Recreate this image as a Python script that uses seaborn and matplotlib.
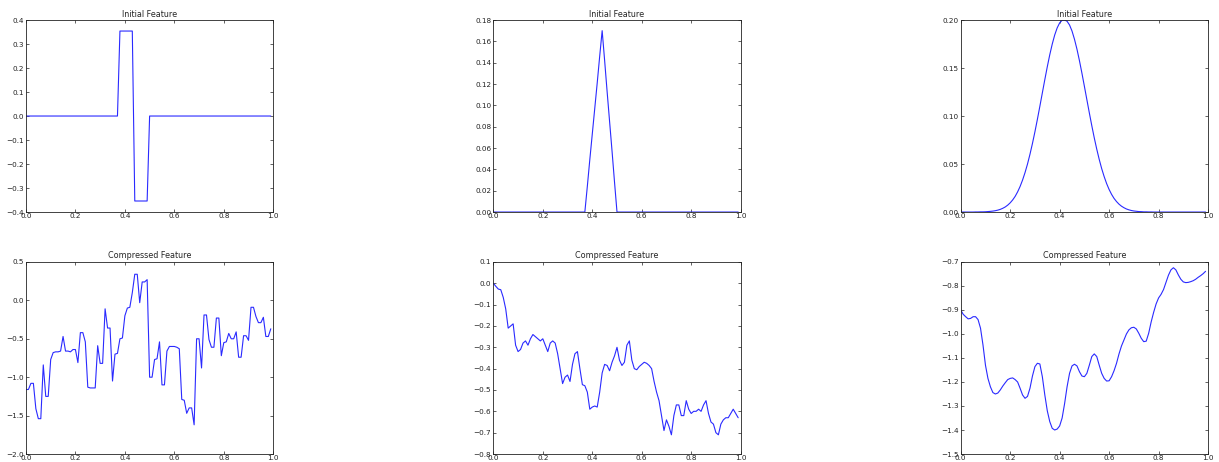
import numpy as np
import pandas as pd
import matplotlib
matplotlib.use("Agg")
import matplotlib.pyplot as plt
import seaborn as sns

# ---------------- data ----------------
x_grid = np.round(np.arange(0, 1.0, 0.01), 2)

titles_top = "Initial Feature"
titles_bottom = "Compressed Feature"

haar_initial = ([0.0] * 38 + [0.354] * 6 + [-0.354] * 6 + [0.0] * 50)

tri_initial = ([0.0] * 38 +
               [0.024, 0.049, 0.073, 0.097, 0.121, 0.146, 0.170,
                0.142, 0.113, 0.085, 0.057, 0.028] +
               [0.0] * 50)

gauss_initial = ([0.0] * 6 +
                 [0.0001, 0.0001, 0.0002, 0.0002, 0.0003, 0.0005, 0.0007, 0.0010,
                  0.0014, 0.0020, 0.0028, 0.0039, 0.0053, 0.0072, 0.0096, 0.0126,
                  0.0163, 0.0210, 0.0266, 0.0333, 0.0411, 0.0500, 0.0602, 0.0714,
                  0.0836, 0.0966, 0.1102, 0.1241, 0.1379, 0.1513, 0.1638, 0.1749,
                  0.1844, 0.1918, 0.1970, 0.1997,
                  0.2000,
                  0.1987, 0.1948, 0.1885, 0.1799, 0.1696, 0.1577, 0.1447, 0.1310,
                  0.1171, 0.1033, 0.0899, 0.0772, 0.0655, 0.0548, 0.0452, 0.0369,
                  0.0296, 0.0235, 0.0184, 0.0142, 0.0109, 0.0082, 0.0061, 0.0045,
                  0.0032, 0.0023, 0.0016, 0.0011, 0.0008, 0.0005, 0.0004, 0.0002,
                  0.0002, 0.0001, 0.0001] +
                 [0.0] * 22)

haar_compressed = [
    -1.16, -1.16, -1.08, -1.08, -1.41, -1.54, -1.54, -0.84, -1.25, -1.25,
    -0.77, -0.68, -0.67, -0.67, -0.66, -0.47, -0.66, -0.66, -0.67, -0.64,
    -0.64, -0.81, -0.42, -0.42, -0.54, -1.13, -1.14, -1.14, -1.14, -0.59,
    -0.82, -0.82, -0.11, -0.36, -0.36, -1.05, -0.70, -0.69, -0.50, -0.49,
    -0.20, -0.10, -0.09, 0.10, 0.34, 0.34, -0.03, 0.24, 0.24, 0.27,
    -1.00, -1.00, -0.77, -0.76, -0.54, -1.10, -1.10, -0.66, -0.60, -0.60,
    -0.60, -0.61, -0.63, -1.29, -1.30, -1.47, -1.40, -1.40, -1.62, -0.50,
    -0.50, -0.88, -0.19, -0.19, -0.51, -0.61, -0.61, -0.23, -0.23, -0.72,
    -0.55, -0.54, -0.43, -0.50, -0.50, -0.41, -0.74, -0.74, -0.46, -0.46,
    -0.52, -0.09, -0.09, -0.21, -0.29, -0.29, -0.22, -0.47, -0.47, -0.37,
]

tri_compressed = [
    0.00, -0.014, -0.027, -0.03, -0.066, -0.12, -0.21, -0.20, -0.19, -0.29,
    -0.32, -0.31, -0.28, -0.27, -0.29, -0.26, -0.24, -0.25, -0.26, -0.27,
    -0.26, -0.29, -0.32, -0.28, -0.27, -0.28, -0.33, -0.40, -0.47, -0.44,
    -0.43, -0.46, -0.38, -0.33, -0.32, -0.40, -0.475, -0.48, -0.51, -0.59,
    -0.58, -0.575, -0.58, -0.51, -0.42, -0.38, -0.385, -0.41, -0.37, -0.34,
    -0.30, -0.36, -0.385, -0.37, -0.29, -0.27, -0.36, -0.40, -0.405, -0.39,
    -0.38, -0.37, -0.375, -0.385, -0.40, -0.46, -0.51, -0.55, -0.62, -0.69,
    -0.64, -0.67, -0.71, -0.62, -0.57, -0.57, -0.62, -0.62, -0.55, -0.59,
    -0.61, -0.60, -0.60, -0.59, -0.60, -0.57, -0.55, -0.61, -0.65, -0.66,
    -0.70, -0.71, -0.66, -0.64, -0.63, -0.63, -0.61, -0.59, -0.61, -0.63,
]

gauss_compressed = [
    -0.900, -0.918, -0.928, -0.937, -0.935, -0.928, -0.928, -0.940, -0.976, -1.046,
    -1.130, -1.185, -1.220, -1.244, -1.250, -1.246, -1.233, -1.217, -1.203, -1.190,
    -1.185, -1.183, -1.190, -1.200, -1.226, -1.254, -1.268, -1.260, -1.226, -1.175,
    -1.136, -1.122, -1.125, -1.178, -1.254, -1.320, -1.365, -1.393, -1.400, -1.396,
    -1.383, -1.350, -1.290, -1.220, -1.164, -1.133, -1.126, -1.133, -1.157, -1.175,
    -1.178, -1.164, -1.130, -1.094, -1.083, -1.094, -1.130, -1.164, -1.185, -1.196,
    -1.195, -1.178, -1.153, -1.122, -1.083, -1.050, -1.025, -1.000, -0.983, -0.974,
    -0.972, -0.979, -0.997, -1.018, -1.032, -1.030, -0.997, -0.950, -0.910, -0.875,
    -0.850, -0.835, -0.815, -0.785, -0.755, -0.733, -0.724, -0.733, -0.754, -0.772,
    -0.783, -0.786, -0.785, -0.782, -0.778, -0.772, -0.764, -0.757, -0.749, -0.739,
]

x_ticks = [0.0, 0.2, 0.4, 0.6, 0.8, 1.0]
yticks_haar_init = [-0.4, -0.3, -0.2, -0.1, 0.0, 0.1, 0.2, 0.3, 0.4]
yticks_tri_init = [0.00, 0.02, 0.04, 0.06, 0.08, 0.10, 0.12, 0.14, 0.16, 0.18]
yticks_gauss_init = [0.00, 0.05, 0.10, 0.15, 0.20]
yticks_haar_comp = [-2.0, -1.5, -1.0, -0.5, 0.0, 0.5]
yticks_tri_comp = [-0.8, -0.7, -0.6, -0.5, -0.4, -0.3, -0.2, -0.1, 0.0, 0.1]
yticks_gauss_comp = [-1.5, -1.4, -1.3, -1.2, -1.1, -1.0, -0.9, -0.8, -0.7]

# ---------------- style ----------------
sns.set_theme(style="white")
plt.rcParams.update({
    "font.family": ["DejaVu Sans"],
    "axes.edgecolor": "#222222",
    "axes.linewidth": 0.6,
    "xtick.direction": "in",
    "ytick.direction": "in",
    "xtick.top": True,
    "ytick.right": True,
    "xtick.bottom": True,
    "ytick.left": True,
    "xtick.major.size": 2.5,
    "ytick.major.size": 2.5,
    "xtick.major.width": 0.5,
    "ytick.major.width": 0.5,
    "xtick.major.pad": 0.8,
    "ytick.major.pad": 1.5,
    "xtick.color": "#222222",
    "ytick.color": "#222222",
    "xtick.labelsize": 5.2,
    "ytick.labelsize": 5.2,
    "axes.unicode_minus": True,
})

fig, axes = plt.subplots(2, 3, figsize=(12.19, 4.62), dpi=100)
fig.subplots_adjust(left=0.0213, right=0.991, top=0.9567, bottom=0.0173,
                    wspace=0.89, hspace=0.26)

panels = [
    (axes[0, 0], haar_initial, titles_top, yticks_haar_init),
    (axes[0, 1], tri_initial, titles_top, yticks_tri_init),
    (axes[0, 2], gauss_initial, titles_top, yticks_gauss_init),
    (axes[1, 0], haar_compressed, titles_bottom, yticks_haar_comp),
    (axes[1, 1], tri_compressed, titles_bottom, yticks_tri_comp),
    (axes[1, 2], gauss_compressed, titles_bottom, yticks_gauss_comp),
]

for ax, values, title, yticks in panels:
    df = pd.DataFrame({"x": x_grid, "y": values})
    sns.lineplot(data=df, x="x", y="y", ax=ax, color="#2a2aff", linewidth=0.8)
    ax.set_xlim(x_ticks[0], x_ticks[-1])
    ax.set_ylim(yticks[0], yticks[-1])
    ax.set_xticks(x_ticks)
    ax.set_yticks(yticks)
    ax.set_xlabel("")
    ax.set_ylabel("")
    ax.set_title(title, fontsize=5.8, pad=2.5)
    for s in ax.spines.values():
        s.set_visible(True)
        s.set_color("#222222")
        s.set_linewidth(0.6)

fig.savefig("out.png", dpi=100)
